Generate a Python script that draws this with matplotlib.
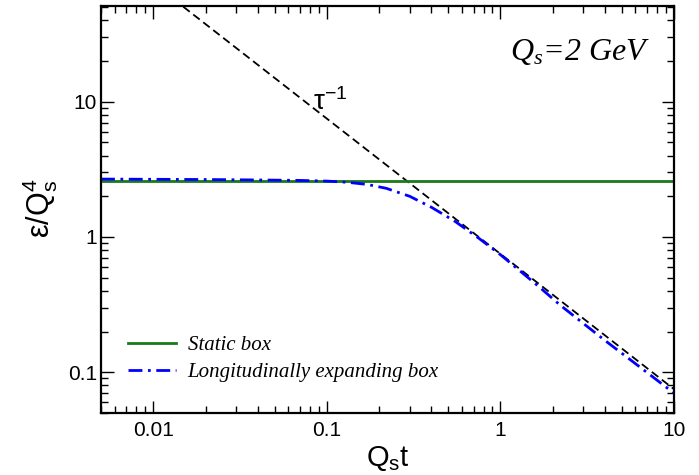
import numpy as np
import matplotlib
matplotlib.use('Agg')
import matplotlib.pyplot as plt

plt.rcParams['font.family'] = ['Liberation Sans', 'DejaVu Sans']
plt.rcParams['mathtext.fontset'] = 'custom'
plt.rcParams['mathtext.rm'] = 'Liberation Sans'
plt.rcParams['mathtext.it'] = 'Liberation Serif:italic'

# static box: constant energy density
static_t = [0.005, 10]
static_e = [2.6, 2.6]

# longitudinally expanding box
expand_t = [0.005, 0.01, 0.02, 0.04, 0.07, 0.1, 0.13, 0.17, 0.22, 0.3, 0.4, 0.55,
            0.75, 1.0, 1.3, 1.7, 2.2, 3.0, 4.0, 5.5, 7.5, 10.0]
expand_e = [2.68, 2.67, 2.66, 2.64, 2.62, 2.59, 2.54, 2.45, 2.29, 2.0, 1.66, 1.30,
            0.98, 0.74, 0.56, 0.42, 0.315, 0.23, 0.172, 0.126, 0.093, 0.070]

# tau^-1 reference line
tau_t = [0.005, 10]
tau_e = [0.75 / 0.005, 0.75 / 10]

fig = plt.figure(figsize=(6.99, 4.75), dpi=100)
ax = fig.add_axes([101 / 699, 1 - 413 / 475, 573 / 699, 407 / 475])

ax.plot(tau_t, tau_e, color='black', lw=1.3, dashes=(4.5, 2.5))
ax.plot(static_t, static_e, color='#1a7a1a', lw=2, label='Static box')
ax.plot(expand_t, expand_e, color='#0000ff', lw=2, dashes=(5, 2, 1, 2),
        label='Longitudinally expanding box')

ax.set_xscale('log')
ax.set_yscale('log')
ax.set_xlim(0.005, 10)
ax.set_ylim(0.05, 51)

ax.set_xticks([0.01, 0.1, 1, 10])
ax.set_xticklabels(['0.01', '0.1', '1', '10'])
ax.set_yticks([0.1, 1, 10])
ax.set_yticklabels(['0.1', '1', '10'])
ax.tick_params(which='both', direction='in', top=True, right=True,
               labelsize=15, width=1)
ax.tick_params(which='major', length=9)
ax.tick_params(which='minor', length=5)
ax.tick_params(axis='y', pad=3)
ax.tick_params(axis='x', pad=6)
for s in ax.spines.values():
    s.set_linewidth(1.6)

fig.text(388 / 699, 1 - 466 / 475, r'$\mathrm{Q_s t}$', fontsize=21,
         ha='center', va='baseline')
fig.text(40 / 699, 1 - 208 / 475, r'$\mathrm{ε/Q_s^4}$', fontsize=22,
         rotation=90, ha='center', va='center')

ax.text(0.37, 0.744, r'$\mathrm{τ^{-1}}$', transform=ax.transAxes, fontsize=20)
ax.text(0.958, 0.867, r'$Q_s$=2 GeV', transform=ax.transAxes, fontsize=23,
        family='Liberation Serif', style='italic', ha='right', va='baseline')

ax.legend(loc='lower left', bbox_to_anchor=(0.015, 0.03), frameon=False,
          prop={'family': 'Liberation Serif', 'style': 'italic', 'size': 15},
          handlelength=2.3, handletextpad=0.55, labelspacing=0.35)

fig.savefig('out.png', dpi=100)
